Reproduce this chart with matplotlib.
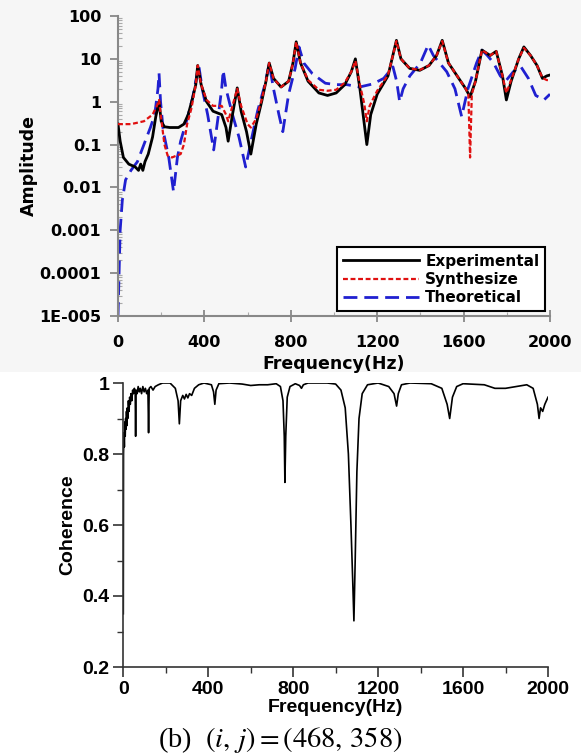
import matplotlib
matplotlib.use("Agg")
import matplotlib.pyplot as plt
from matplotlib.patches import Rectangle
from matplotlib.ticker import FixedLocator, NullFormatter, LogLocator

plt.rcParams['mathtext.fontset'] = 'stix'

# ---- amplitude FRF (top) ----
exp_f = [0, 10, 25, 50, 80, 95, 105, 115, 125, 140, 160, 175, 190, 200, 215, 240, 280, 305,
         325, 345, 360, 369, 385, 410, 440, 480, 500, 510, 530, 552, 570, 595, 615, 640, 665,
         685, 700, 720, 755, 790, 810, 825, 845, 880, 930, 970, 1010, 1050, 1080, 1099, 1120,
         1152, 1170, 1200, 1250, 1289, 1310, 1350, 1397, 1440, 1475, 1501, 1530, 1570, 1610,
         1630, 1655, 1685, 1723, 1751, 1780, 1798, 1820, 1855, 1879, 1910, 1940, 1965, 1985, 2000]
exp_a = [0.3, 0.12, 0.05, 0.035, 0.03, 0.025, 0.035, 0.025, 0.04, 0.06, 0.15, 0.45, 1.0, 0.35,
         0.26, 0.25, 0.25, 0.3, 0.5, 1.2, 2.5, 7, 2.5, 1.0, 0.6, 0.5, 0.25, 0.12, 0.5, 2.1, 0.6,
         0.2, 0.06, 0.3, 1.0, 3, 8, 3.5, 2.2, 3, 8, 25, 8, 3, 1.6, 1.4, 1.6, 2.5, 5, 10, 2,
         0.1, 0.5, 1.5, 4, 27, 10, 6, 5.4, 7, 12, 27, 8, 4, 2,
         1.3, 3, 16, 12, 15, 4, 1.1, 3, 10, 19, 12, 7, 3.5, 4, 4.2]

syn_f = [0, 60, 120, 160, 180, 190, 200, 215, 230, 250, 270, 290, 305, 320, 340, 360, 369, 385,
         410, 440, 480, 500, 510, 530, 552, 570, 600, 615, 640, 665, 685, 700, 720, 755, 790, 810,
         825, 845, 880, 930, 970, 1010, 1050, 1080, 1099, 1120, 1140, 1152, 1165, 1200, 1250,
         1289, 1310, 1350, 1397, 1440, 1475, 1501, 1530, 1570, 1610, 1622, 1630, 1638, 1655,
         1685, 1723, 1751, 1780, 1798, 1820, 1855, 1879, 1910, 1940, 1965, 1985, 2000]
syn_a = [0.3, 0.3, 0.35, 0.5, 0.8, 1.1, 0.4, 0.1, 0.055, 0.05, 0.055, 0.06, 0.1, 0.3, 0.7, 2.5,
         7, 2.5, 1.1, 0.8, 0.8, 0.5, 0.35, 0.8, 2, 0.8, 0.3, 0.25, 0.4, 1.1, 3, 8, 3.5, 2.2, 3, 8,
         25, 8, 3.2, 1.9, 1.8, 1.9, 2.8, 5, 9, 2.5, 0.9, 0.35, 0.8, 1.8, 4.2,
         26, 10, 6, 5.5, 7, 12, 26, 8, 4, 2, 1.5, 0.05, 1.5, 3,
         16, 12, 15, 4, 1.6, 3.2, 10, 18, 12, 7, 3.6, 3.2, 3.2]

theo_f = [0, 5, 10, 20, 35, 60, 90, 120, 150, 170, 185, 190, 197, 210, 235, 257, 275, 290, 320,
          345, 360, 374, 390, 415, 443, 465, 480, 487, 500, 530, 560, 591, 620, 646, 680, 700,
          720, 745, 763, 790, 820, 838, 860, 900, 960, 1010, 1060, 1118, 1180, 1230, 1273, 1290,
          1304, 1320, 1351, 1400, 1436, 1460, 1522, 1560, 1591, 1620, 1660, 1685, 1710, 1739,
          1770, 1794, 1830, 1864, 1900, 1934, 1972, 2000]
theo_a = [1e-5, 1e-4, 0.001, 0.005, 0.015, 0.025, 0.04, 0.1, 0.25, 0.5, 2, 4.6, 1, 0.2, 0.05,
          0.008, 0.05, 0.12, 0.4, 1.2, 3, 7, 2, 0.5, 0.075, 0.5, 2, 5.4, 2, 0.5, 0.15, 0.03,
          0.15, 0.6, 2.5, 7.7, 2, 0.5, 0.2, 1.5, 6, 19, 8, 4.5, 2.7, 2.5, 2.5, 2.2, 2.6, 3.5,
          6.5, 3, 1.0, 2, 4, 8, 21, 12, 5, 2, 0.45, 2, 8, 16, 12, 8,
          4, 3, 5, 6.7, 3.5, 1.4, 1.1, 1.5]

amp_ticks = [1e-5, 1e-4, 1e-3, 1e-2, 1e-1, 1, 10, 100]
amp_labels = ['1E-005', '0.0001', '0.001', '0.01', '0.1', '1', '10', '100']
freq_ticks = [0, 400, 800, 1200, 1600, 2000]

# ---- coherence (bottom) ----
coh_f = [0, 1, 3, 5, 7, 9, 11, 13, 15, 17, 19, 21, 24, 27, 30, 33, 36, 40, 44, 48, 52, 56, 58,
         60, 65, 70, 75, 80, 86, 92, 98, 104, 110, 116, 119, 122, 130, 140, 150, 165, 185, 220,
         245, 258, 264, 270, 280, 288, 296, 304, 312, 322, 335, 355, 380, 415, 425, 431, 437,
         450, 500, 560, 600, 640, 680, 720, 740, 752, 758, 761, 765, 772, 785, 810, 830, 839,
         848, 870, 960, 1000, 1025, 1045, 1060, 1072, 1080, 1086, 1092, 1100, 1110, 1125, 1150,
         1200, 1250, 1275, 1287, 1295, 1310, 1350, 1450, 1500, 1525, 1537, 1550, 1570, 1600,
         1700, 1750, 1800, 1850, 1900, 1930, 1950, 1958, 1965, 1975, 1985, 2000]
coh_v = [0.35, 0.80, 0.86, 0.82, 0.89, 0.85, 0.90, 0.87, 0.92, 0.88, 0.93, 0.90, 0.95, 0.92,
         0.96, 0.94, 0.97, 0.95, 0.98, 0.97, 0.985, 0.975, 0.85,
         0.98, 0.97, 0.99, 0.975, 0.985, 0.97, 0.99, 0.975, 0.985, 0.97, 0.98, 0.86, 0.985, 0.99,
         0.98, 0.99, 0.995, 1.0, 1.0,
         0.985, 0.95, 0.885, 0.95, 0.965, 0.955, 0.968, 0.958, 0.97, 0.965, 0.985, 0.995, 1.0,
         0.995, 0.975, 0.94, 0.98,
         0.998, 1.0, 0.997, 0.993, 0.995, 0.995, 0.998, 0.99, 0.95, 0.85, 0.72, 0.85, 0.96,
         0.99, 0.998, 0.993, 0.985,
         0.995, 1.0, 1.0, 0.997, 0.98, 0.93, 0.8, 0.6, 0.45, 0.33, 0.5, 0.75, 0.9, 0.97, 0.995,
         1.0, 0.99, 0.97, 0.935, 0.97, 0.995, 1.0, 0.998, 0.985, 0.94, 0.90, 0.96, 0.99, 0.998,
         0.995, 0.985, 0.985, 0.99, 0.995, 0.985, 0.94, 0.90, 0.93, 0.92, 0.94, 0.96]
coh_ticks = [0.2, 0.4, 0.6, 0.8, 1]

W, H = 581, 756
fig = plt.figure(figsize=(W / 100, H / 100), dpi=100)
# the upper picture sits on a very light grey ground
fig.patches.append(Rectangle((0, 1 - 372 / H), 1, 372 / H, transform=fig.transFigure,
                             facecolor='#f6f6f6', edgecolor='none', zorder=-5))

top_font = dict(family='DejaVu Sans', weight='bold', size=11.5)
top_lab = dict(family='DejaVu Sans', weight='bold', size=12.5)
bot_font = dict(family='Liberation Sans', weight='bold', size=14)

#%% top
ax1 = fig.add_axes([118 / W, 1 - 316 / H, 432 / W, 300 / H])
ax1.patch.set_alpha(0)
ax1.plot(exp_f, exp_a, color='black', lw=2.0, label='Experimental', zorder=3)
ax1.plot(syn_f, syn_a, color='#e01010', lw=1.6, ls=(0, (2.2, 1.2)), label='Synthesize', zorder=4)
ax1.plot(theo_f, theo_a, color='#2020d0', lw=2.0, ls=(0, (5, 2.5)), label='Theoretical', zorder=2)
ax1.set_yscale('log')
ax1.set_ylim(1e-5, 100)
ax1.set_xlim(0, 2000)
ax1.set_yticks(amp_ticks)
ax1.set_yticklabels(amp_labels)
ax1.yaxis.set_minor_locator(LogLocator(base=10, subs=range(2, 10), numticks=20))
ax1.yaxis.set_minor_formatter(NullFormatter())
ax1.set_xticks(freq_ticks)
ax1.xaxis.set_minor_locator(FixedLocator([200, 600, 1000, 1400, 1800]))
for s in ['top', 'right']:
    ax1.spines[s].set_visible(False)
for s in ['left', 'bottom']:
    ax1.spines[s].set_color('#888888')
    ax1.spines[s].set_linewidth(1.5)
ax1.tick_params(axis='y', which='major', direction='out', length=6, width=1.3, color='#888888', pad=6)
ax1.tick_params(axis='y', which='minor', direction='in', length=3, width=0.8, color='#aaaaaa')
ax1.tick_params(axis='x', which='major', direction='inout', length=8, width=1.3, color='#888888', pad=10)
ax1.tick_params(axis='x', which='minor', direction='in', length=3, width=0.8, color='#aaaaaa')
for lab in ax1.get_xticklabels() + ax1.get_yticklabels():
    lab.set_fontproperties(top_font)
ax1.set_xlabel('Frequency(Hz)', fontdict=top_lab, labelpad=3)
ax1.set_ylabel('Amplitude', fontdict=top_lab, labelpad=1)
leg = ax1.legend(loc='lower right', bbox_to_anchor=(1.0, 0.0), borderaxespad=0.3,
                 prop=dict(family='DejaVu Sans', weight='bold', size=11),
                 handlelength=5.0, handletextpad=0.4, labelspacing=0.22,
                 fancybox=False, framealpha=1, edgecolor='black', borderpad=0.4)
leg.get_frame().set_linewidth(1.5)

#%% bottom
ax2 = fig.add_axes([123.3 / W, 1 - 667 / H, 424.7 / W, 284 / H])
ax2.plot(coh_f, coh_v, color='black', lw=1.2)
ax2.set_xlim(0, 2000)
ax2.set_ylim(0.2, 1.0)
ax2.set_xticks(freq_ticks)
ax2.set_yticks(coh_ticks)
ax2.set_yticklabels(['0.2', '0.4', '0.6', '0.8', '1'])
ax2.xaxis.set_minor_locator(FixedLocator([200, 600, 1000, 1400, 1800]))
ax2.yaxis.set_minor_locator(FixedLocator([0.3, 0.5, 0.7, 0.9]))
for s in ['top', 'right']:
    ax2.spines[s].set_visible(False)
for s in ['left', 'bottom']:
    ax2.spines[s].set_linewidth(1.2)
    ax2.spines[s].set_color('#333333')
ax2.tick_params(which='major', direction='out', length=7, width=1.2, color='#333333', pad=3)
ax2.tick_params(which='minor', direction='out', length=4, width=1.0, color='#333333')
for lab in ax2.get_xticklabels() + ax2.get_yticklabels():
    lab.set_fontproperties(bot_font)
ax2.set_xlabel('Frequency(Hz)', fontdict=bot_font, labelpad=1)
ax2.set_ylabel('Coherence', fontdict=bot_font, labelpad=4)

fig.text(280 / W, 1 - 740 / H, r'(b)  $(i,\, j) = (468,\, 358)$', ha='center', va='center',
         family='Liberation Serif', size=20.5, math_fontfamily='stix')

fig.savefig('out.png', dpi=100)
